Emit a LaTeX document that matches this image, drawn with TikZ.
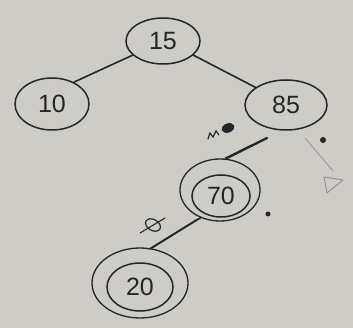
\documentclass[tikz,border=0pt]{standalone}
\usepackage{fontspec}
\setmainfont{Liberation Sans}
\usetikzlibrary{shapes.geometric}
\definecolor{paper}{RGB}{206,204,198}
\definecolor{ink}{RGB}{38,38,38}
\definecolor{faint}{RGB}{150,148,144}
\begin{document}
\begin{tikzpicture}[x=1pt,y=-1pt,
  ink/.style={draw=ink,line width=1.5pt},
  key/.style={ellipse,ink,inner sep=0pt,font=\fontsize{25}{25}\selectfont,text=ink},
  ring/.style={ellipse,ink,line width=1.3pt,inner sep=0pt},
  edge/.style={ink,line width=1.6pt,line cap=round},
  blob/.style={circle,fill=ink,inner sep=0pt,minimum size=6pt}]
\fill[paper] (0,0) rectangle (353,328);
\useasboundingbox (0,0) rectangle (353,328);
% keys
\node[key,minimum width=74pt,minimum height=46pt] (n15) at (163,41) {15};
\node[key,minimum width=74pt,minimum height=52pt] (n10) at (52,104) {10};
\node[key,minimum width=82pt,minimum height=50pt] (n85) at (286,105) {85};
\node[key,minimum width=58pt,minimum height=42pt] (n70) at (221,196) {70};
\node[ring,minimum width=80pt,minimum height=62pt] (n70o) at (220,190) {};
\node[key,minimum width=66pt,minimum height=48pt] (n20) at (140,287) {20};
\node[ring,minimum width=96pt,minimum height=70pt] (n20o) at (140,283) {};
% edges
\coordinate (e85) at (267,138);
\coordinate (fl) at (305,138);
\coordinate (tri) at (333,171);
\draw[edge] (n15.205) -- (n10.45);
\draw[edge] (n15.335) -- (n85.150);
\draw[edge,line width=2.4pt] (e85) -- (n70o.80);
\draw[edge] (n70o.235) -- (n20o.72);
\draw[ink,line width=0.8pt] ([shift={(-3,1)}]n70o.235) -- ([shift={(-3,1)}]n20o.72);
% marks
\draw[faint,line width=0.8pt] (fl) -- (tri);
\draw[faint,line width=1pt,line join=round] (324,177) -- (343,180) -- (327,193) -- cycle;
\node[blob] (d1) at (323,140) {};
\node[blob,minimum size=5pt] (d2) at (268,214) {};
\draw[ink,line width=1.2pt,line cap=round] (208,139) -- (210,133) -- (213,137) -- (216,131) -- (219,135);
\node[ellipse,draw=ink,fill=ink,line width=1.2pt,minimum width=12pt,minimum height=8pt,inner sep=0pt,rotate=20] (w2) at (228,128) {};
\node[ellipse,draw=ink,line width=1.2pt,minimum width=16pt,minimum height=11pt,inner sep=0pt,rotate=-30] (th) at (153,225) {};
\draw[ink,line width=1.1pt,line cap=round] (140,233) -- (165,218);
\end{tikzpicture}
\end{document}
